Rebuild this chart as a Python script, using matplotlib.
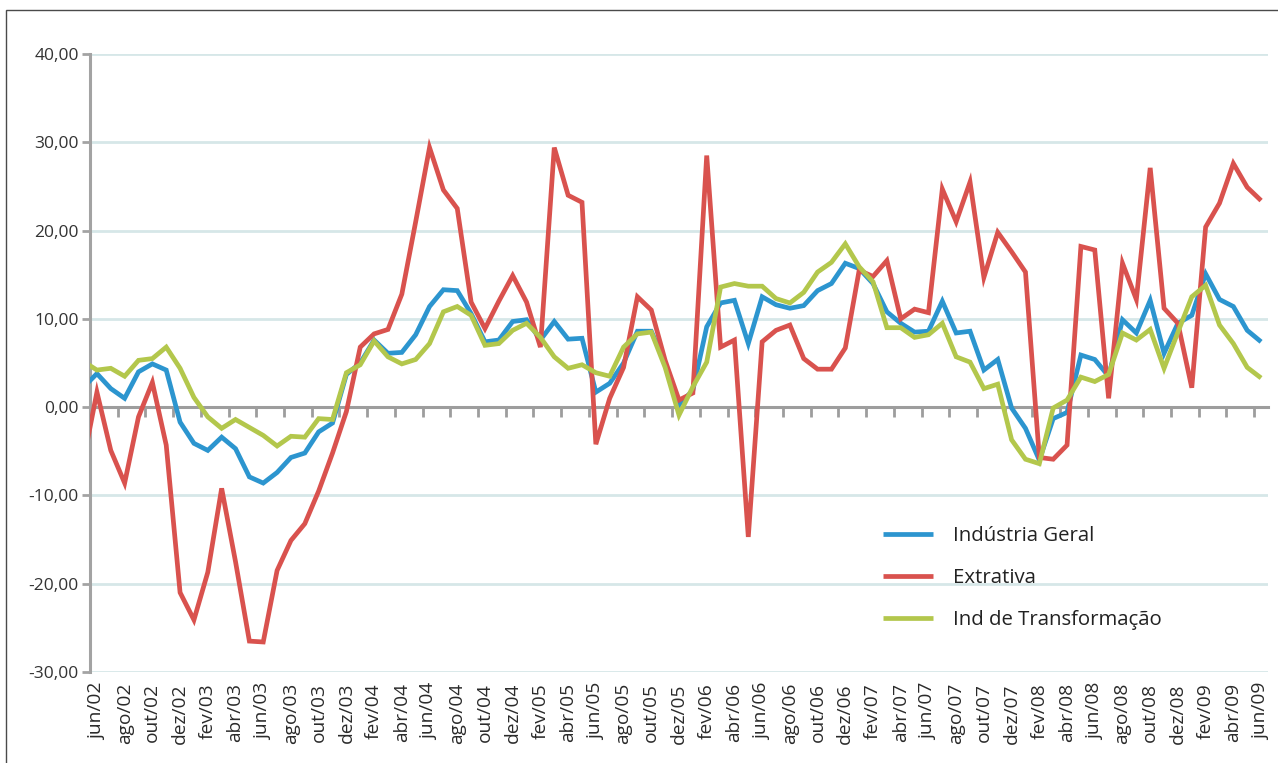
import matplotlib
matplotlib.use("Agg")
import matplotlib.pyplot as plt
from matplotlib.ticker import FuncFormatter, FixedLocator
from matplotlib.patches import Rectangle

# ---- data ----
month_names = ["jan", "fev", "mar", "abr", "mai", "jun", "jul", "ago", "set", "out", "nov", "dez"]
years = ["02", "03", "04", "05", "06", "07", "08", "09"]
# months from mai/02 (partly hidden at the left edge) to jun/09
categories = [f"{m}/{y}" for y in years for m in month_names]
categories = categories[categories.index("mai/02"):categories.index("jun/09") + 1]

industria_geral = [2.2,
    3.8, 2.1, 1.0, 4.0, 4.9, 4.2, -1.7, -4.1, -4.9, -3.4,
    -4.7, -7.9, -8.6, -7.4, -5.7, -5.2, -2.8, -1.8, 3.7, 5.0,
    7.6, 6.1, 6.2, 8.2, 11.4, 13.3, 13.2, 10.6, 7.4, 7.6,
    9.7, 9.9, 7.6, 9.7, 7.7, 7.8, 1.7, 2.7, 5.0, 8.6,
    8.6, 5.0, 0.3, 1.9, 9.1, 11.8, 12.1, 7.2, 12.5, 11.6,
    11.2, 11.5, 13.2, 14.0, 16.3, 15.7, 14.0, 10.8, 9.5, 8.5,
    8.6, 12.0, 8.4, 8.6, 4.2, 5.4, -0.1, -2.4, -6.0, -1.3,
    -0.6, 5.9, 5.4, 3.5, 9.9, 8.4, 12.1, 6.1, 9.5, 10.4,
    15.1, 12.2, 11.4, 8.7, 7.4]

extrativa = [-6.3,
    1.7, -4.9, -8.6, -1.1, 2.8, -4.3, -21.0, -24.1, -18.7, -9.2,
    -17.5, -26.5, -26.6, -18.5, -15.1, -13.2, -9.5, -5.2, -0.5, 6.8,
    8.3, 8.8, 12.8, 21.0, 29.4, 24.6, 22.5, 11.9, 8.9, 12.0,
    14.9, 11.9, 6.8, 29.4, 24.0, 23.2, -4.2, 1.0, 4.5, 12.5,
    11.0, 5.3, 0.8, 1.6, 28.5, 6.8, 7.6, -14.7, 7.4, 8.7,
    9.3, 5.5, 4.3, 4.3, 6.7, 15.5, 14.8, 16.6, 10.0, 11.1,
    10.7, 24.7, 21.0, 25.5, 14.7, 19.8, 17.6, 15.3, -5.7, -5.9,
    -4.3, 18.2, 17.8, 1.0, 16.3, 12.2, 27.1, 11.2, 9.5, 2.2,
    20.4, 23.1, 27.6, 24.9, 23.4]

transformacao = [5.2,
    4.2, 4.4, 3.5, 5.3, 5.5, 6.8, 4.4, 1.1, -1.1, -2.4,
    -1.4, -2.3, -3.2, -4.4, -3.3, -3.4, -1.3, -1.4, 3.9, 4.8,
    7.5, 5.7, 4.9, 5.4, 7.2, 10.8, 11.4, 10.4, 7.0, 7.2,
    8.7, 9.5, 7.9, 5.7, 4.4, 4.8, 3.9, 3.5, 6.8, 8.3,
    8.5, 4.5, -0.9, 2.3, 5.1, 13.6, 14.0, 13.7, 13.7, 12.3,
    11.8, 13.0, 15.3, 16.4, 18.5, 15.9, 14.2, 9.0, 9.0, 7.9,
    8.2, 9.5, 5.7, 5.1, 2.1, 2.6, -3.7, -5.9, -6.4, -0.1,
    0.8, 3.4, 2.9, 3.7, 8.4, 7.6, 8.8, 4.4, 8.5, 12.5,
    13.8, 9.3, 7.2, 4.5, 3.3]

series_names = ["Indústria Geral", "Extrativa", "Ind de Transformação"]
series_values = [industria_geral, extrativa, transformacao]
colors = ["#2c95cf", "#d9524e", "#b3c74c"]

y_ticks = [-30, -20, -10, 0, 10, 20, 30, 40]

# ---- figure ----
plt.rcParams["font.family"] = ["Open Sans", "DejaVu Sans"]
W, H = 1278, 763
fig = plt.figure(figsize=(W / 100, H / 100), dpi=100)
L, R, T, B = 90, 1268, 54, 672
ax = fig.add_axes([L / W, 1 - B / H, (R - L) / W, (B - T) / H])

x = list(range(len(categories)))
for name, vals, c in zip(series_names, series_values, colors):
    ax.plot(x, vals, color=c, lw=3.4, label=name, solid_joinstyle="miter",
            solid_capstyle="butt", zorder=3)

ax.set_xlim(0.5, len(categories) - 0.5)
ax.set_ylim(-30, 40)

# y axis
ax.set_yticks(y_ticks)
ax.yaxis.set_major_formatter(FuncFormatter(lambda v, p: f"{v:.2f}".replace(".", ",")))
ax.tick_params(axis="y", length=6, width=2, color="#a3a3a3", labelsize=12.5,
               labelcolor="#333333", pad=2)
for yv in y_ticks:
    if yv != 0:
        ax.axhline(yv, color="#d6e7e8", lw=2, zorder=1)

for s in ["top", "right", "bottom"]:
    ax.spines[s].set_visible(False)
ax.spines["left"].set_color("#a3a3a3")
ax.spines["left"].set_linewidth(2.2)

# x labels at bottom (every 2nd month, starting at jun/02)
label_pos = [i for i in x if i % 2 == 1]
ax.set_xticks(label_pos)
ax.set_xticklabels([categories[i] for i in label_pos], rotation=90)
ax.tick_params(axis="x", length=0, labelsize=13.8, labelcolor="#2a2a2a", pad=8)

# zero axis with tick marks between categories
zero_frac = (0 - (-30)) / (40 - (-30))
sec = ax.secondary_xaxis(zero_frac)
sec.xaxis.set_major_locator(FixedLocator([i + 0.5 for i in x[:-1] if i % 2 == 0]))
sec.tick_params(axis="x", direction="out", length=7, width=2, color="#9d9d9d",
                labelbottom=False, labeltop=False, bottom=True, top=False)
sec.spines["bottom"].set_color("#9d9d9d")
sec.spines["bottom"].set_linewidth(2.2)
sec.spines["top"].set_visible(False)
sec.xaxis.set_ticks_position("bottom")
sec.set_xticklabels([])

# legend
leg = ax.legend(loc="center left", bbox_to_anchor=(883 / W, 1 - 578 / H),
                bbox_transform=fig.transFigure, frameon=False, fontsize=14.7,
                handlelength=2.45, handletextpad=0.98, labelspacing=1.07,
                borderpad=0, borderaxespad=0)
for t in leg.get_texts():
    t.set_color("#222222")

# figure frame
fig.patches.append(Rectangle((6 / W, -0.05), 1.1, 1 - 10 / H + 0.05,
                             transform=fig.transFigure, fill=False,
                             edgecolor="#4a4a4a", lw=1.0))

fig.savefig("out.png", dpi=100)
